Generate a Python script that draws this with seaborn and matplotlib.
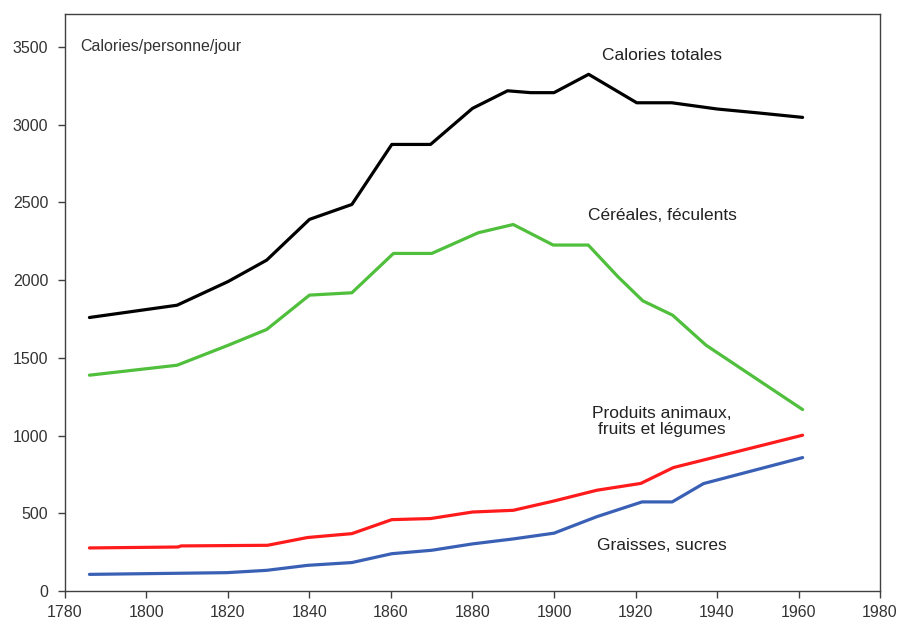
import matplotlib
matplotlib.use("Agg")
import matplotlib.pyplot as plt
import seaborn as sns
import pandas as pd

# Data
years_total = [1786, 1807.5, 1820, 1829.5, 1840, 1850.4, 1860.2, 1869.7, 1880, 1888.6, 1894.3, 1900, 1908.5, 1920.3, 1928.9, 1940, 1950, 1961]
total = [1759, 1838, 1990, 2128, 2390, 2486, 2872, 2872, 3104, 3217, 3205, 3205, 3323, 3140, 3140, 3100, 3075, 3046]

years_cereales = [1786, 1807.5, 1820, 1829.5, 1840, 1850.4, 1860.6, 1870, 1881.4, 1890, 1899.8, 1908.4, 1915.7, 1921.8, 1929.1, 1937.3, 1961]
cereales = [1388, 1452, 1580, 1682, 1903, 1918, 2171, 2171, 2304, 2357, 2225, 2225, 2021, 1866, 1774, 1581, 1167]

years_animaux = [1786, 1807.7, 1808.5, 1829.7, 1839.5, 1850.4, 1860.2, 1869.7, 1880, 1890, 1900, 1910.5, 1921.3, 1929.3, 1961]
animaux = [277, 283, 290, 294, 344, 369, 459, 466, 508, 519, 579, 648, 692, 794, 1002]

years_graisses = [1786, 1819.7, 1829.5, 1839.5, 1850.4, 1860.2, 1870, 1880, 1890, 1900, 1910.5, 1921.6, 1929, 1936.7, 1961]
graisses = [107, 118, 133, 165, 183, 240, 262, 303, 335, 372, 478, 573, 573, 691, 858]

series_names = ["Calories totales", "Céréales, féculents",
                "Produits animaux,\nfruits et légumes", "Graisses, sucres"]
colors = ["#000000", "#4FBF3C", "#FF1B1B", "#3A60B5"]

x_ticks = list(range(1780, 1981, 20))
y_ticks = list(range(0, 3501, 500))

frames = []
for name, xs, ys in zip(series_names,
                        [years_total, years_cereales, years_animaux, years_graisses],
                        [total, cereales, animaux, graisses]):
    frames.append(pd.DataFrame({"annee": xs, "calories": ys, "serie": name}))
df = pd.concat(frames, ignore_index=True)

sns.set_style("ticks")
plt.rcParams['font.family'] = ['Liberation Sans', 'DejaVu Sans']

fig = plt.figure(figsize=(9, 6.27), dpi=100)
ax = fig.add_axes([0.0722, 0.0574, 0.9056, 0.9203])

sns.lineplot(data=df, x="annee", y="calories", hue="serie", palette=colors,
             hue_order=series_names, linewidth=2.3, ax=ax, legend=False,
             sort=False, estimator=None)

ax.set_xlim(1780, 1980)
ax.set_ylim(0, 3711)
ax.set_xticks(x_ticks)
ax.set_yticks(y_ticks)
ax.set_xlabel("")
ax.set_ylabel("")
for s in ax.spines.values():
    s.set_color("#404040")
    s.set_linewidth(1.0)
ax.tick_params(axis="both", colors="#404040", labelcolor="#333333",
               labelsize=11.5, length=5, width=1, direction="out")
ax.tick_params(axis="x", pad=5)
ax.tick_params(axis="y", pad=7)

txt_kw = dict(color="#222222", fontsize=12.5, ha="center", va="center")
ax.text(1926.5, 3447, "Calories totales", **txt_kw)
ax.text(1926.5, 2418, "Céréales, féculents", **txt_kw)
ax.text(1926.5, 1092, "Produits animaux,\nfruits et légumes", linespacing=1.05, **txt_kw)
ax.text(1926.5, 294, "Graisses, sucres", **txt_kw)
ax.text(1783.7, 3500, "Calories/personne/jour", color="#333333", fontsize=11.5,
        ha="left", va="center")

fig.savefig("out.png", dpi=100)
